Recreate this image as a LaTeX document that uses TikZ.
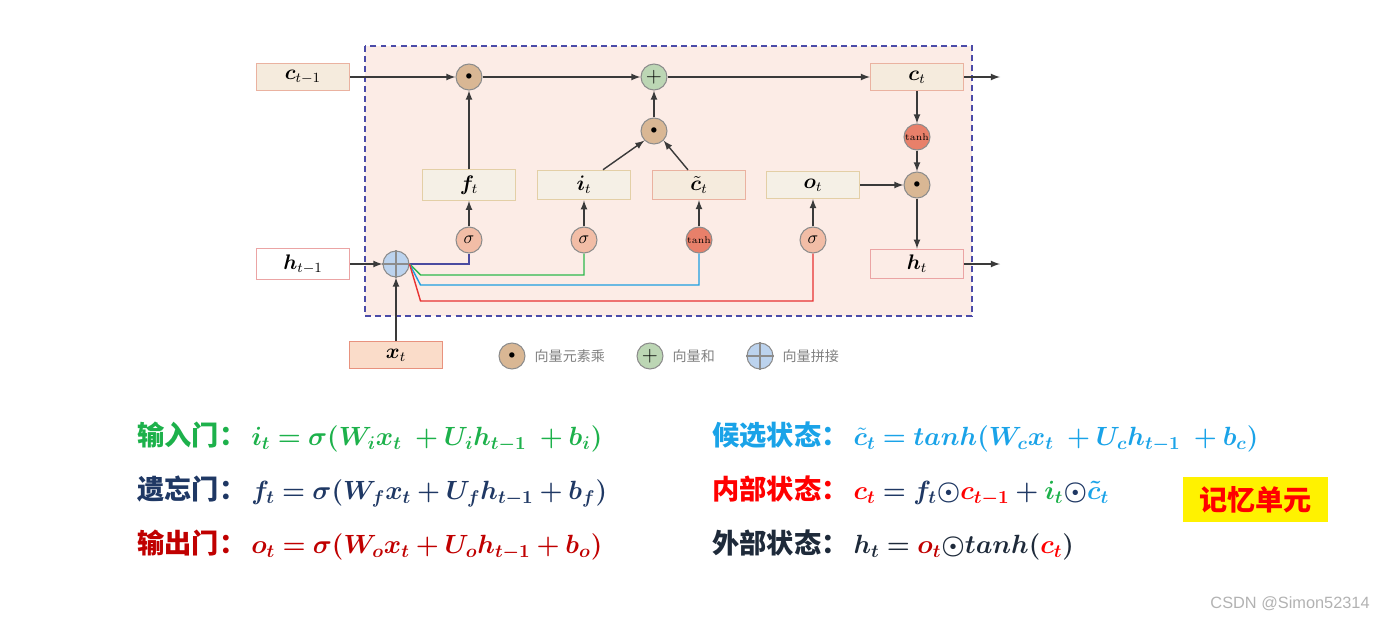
\RequirePackage{fix-cm}
\documentclass[tikz,border=0pt]{standalone}
\usepackage{amsmath}
\usepackage{bm}
\usepackage{fontspec}
\newfontfamily\cjk{Noto Sans CJK SC}
\newfontfamily\wmfont{Liberation Sans}
\usetikzlibrary{arrows,calc,positioning}
\definecolor{CellBg}{HTML}{FCECE6}
\definecolor{CellEdge}{HTML}{4B4BA8}
\definecolor{BoxTan}{HTML}{F5F0E6}
\definecolor{EdgeTan}{HTML}{E3CFA6}
\definecolor{BoxBeige}{HTML}{F5EBDD}
\definecolor{EdgePink}{HTML}{EAB2A0}
\definecolor{BoxPeach}{HTML}{FADCC9}
\definecolor{EdgePeach}{HTML}{E8927E}
\definecolor{EdgeRose}{HTML}{EBA4A4}
\definecolor{MulTan}{HTML}{D9B794}
\definecolor{AddGreen}{HTML}{BCD6B4}
\definecolor{CatBlue}{HTML}{BCD3EE}
\definecolor{SigPink}{HTML}{F2BDA6}
\definecolor{TanhRed}{HTML}{E8806A}
\definecolor{GateRim}{HTML}{8C8C8C}
\definecolor{ArrGray}{HTML}{3A3A3A}
\definecolor{LinePurple}{HTML}{4B4BA0}
\definecolor{LineGreen}{HTML}{2DB84B}
\definecolor{LineBlue}{HTML}{1E9FE0}
\definecolor{LineRed}{HTML}{E83232}
\definecolor{EqGreen}{HTML}{1DB14B}
\definecolor{EqNavy}{HTML}{1F3864}
\definecolor{EqRed}{HTML}{C00000}
\definecolor{EqBlue}{HTML}{1AA3E8}
\definecolor{EqBright}{HTML}{FF0000}
\definecolor{EqDark}{HTML}{1E2A3A}
\tikzset{
    block/.style = {draw, rectangle, line width=0.6pt,
        minimum height=0.54cm,
        minimum width=1.86cm,
        font=\fontsize{12}{14}\selectfont},
    gate/.style = {draw=GateRim, circle, line width=0.6pt,
        minimum size=0.52cm, inner sep=0pt},
    arrow/.style = {draw=ArrGray, -latex, line width=0.8pt},
    feed/.style = {line width=0.8pt},
    legend/.style = {text=gray, font=\cjk\fontsize{8}{10}\selectfont, inner sep=0pt},
    eqn/.style = {anchor=west, inner sep=0pt, font=\fontsize{15}{18}\selectfont}
}
\newcommand{\gatename}[1]{{\cjk\bfseries\fontsize{15.5}{18}\selectfont #1}\hspace{0.1cm}}
\begin{document}
\begin{tikzpicture}[x=0.02cm,y=-0.02cm]
\useasboundingbox (0,0) rectangle (1386,619);
% memory cell
\draw[CellEdge, fill=CellBg, line width=1.1pt, dash pattern=on 3.4pt off 2.3pt] (365,46) rectangle (972,316);

% inputs and outputs
\node[block, fill=BoxBeige, draw=EdgePink] (cprev) at (303,77) {$\bm{c}_{t-1}$};
\node[block, fill=white, draw=EdgeRose] (hprev) at (303,264) {$\bm{h}_{t-1}$};
\node[block, fill=BoxPeach, draw=EdgePeach] (xin) at (396,355) {$\bm{x}_t$};
\node[block, fill=BoxBeige, draw=EdgePink] (ct) at (917,77) {$\bm{c}_t$};
\node[block, fill=CellBg, draw=EdgeRose] (ht) at (917,264) {$\bm{h}_t$};

% gate values
\node[block, fill=BoxTan, draw=EdgeTan] (ft) at (469,185) {$\bm{f}_t$};
\node[block, fill=BoxTan, draw=EdgeTan] (it) at (584,185) {$\bm{i}_t$};
\node[block, fill=BoxBeige, draw=EdgePink] (ctil) at (699,185) {$\tilde{\bm{c}}_t$};
\node[block, fill=BoxTan, draw=EdgeTan] (ot) at (813,185) {$\bm{o}_t$};

% operations
\node[gate, fill=MulTan] (mulf) at (469,77) {\scriptsize$\bullet$};
\node[gate, fill=AddGreen] (addc) at (654,77) {\large$+$};
\node[gate, fill=MulTan] (muli) at (654,131) {\scriptsize$\bullet$};
\node[gate, fill=TanhRed] (tanhc) at (917,137) {\fontsize{5.5}{6}\selectfont tanh};
\node[gate, fill=MulTan] (mulo) at (917,185) {\scriptsize$\bullet$};
\node[gate, fill=SigPink] (sigf) at (469,240) {$\sigma$};
\node[gate, fill=SigPink] (sigi) at (584,240) {$\sigma$};
\node[gate, fill=TanhRed] (tanhi) at (699,240) {\fontsize{5.5}{6}\selectfont tanh};
\node[gate, fill=SigPink] (sigo) at (813,240) {$\sigma$};
\node[gate, fill=CatBlue] (cat) at (396,264) {};
\draw[GateRim, line width=0.6pt] (cat.north) -- (cat.south) (cat.west) -- (cat.east);

\coordinate (cout) at (1000,77);
\coordinate (hout) at (1000,264);

% concatenated input to the gates
\draw[feed, LinePurple] (cat.east) -| (sigf.south);
\draw[feed, LineGreen] (cat.east) -- ++(11,11) -| (sigi.south);
\draw[feed, LineBlue] (cat.east) -- ++(11,21) -| (tanhi.south);
\draw[feed, LineRed] (cat.east) -- ++(11,37) -| (sigo.south);

% flow
\draw[arrow] (cprev) -- (mulf);
\draw[arrow] (mulf) -- (addc);
\draw[arrow] (addc) -- (ct);
\draw[arrow] (ct) -- (cout);
\draw[arrow] (hprev) -- (cat);
\draw[arrow] (xin) -- (cat);
\draw[arrow] (ft) -- (mulf);
\draw[arrow] ([xshift=19*0.02cm]it.north) -- (muli.south west);
\draw[arrow] ([xshift=-11*0.02cm]ctil.north) -- (muli.south east);
\draw[arrow] (muli) -- (addc);
\draw[arrow] (sigf) -- (ft);
\draw[arrow] (sigi) -- (it);
\draw[arrow] (tanhi) -- (ctil);
\draw[arrow] (sigo) -- (ot);
\draw[arrow] (ot) -- (mulo);
\draw[arrow] (ct) -- (tanhc);
\draw[arrow] (tanhc) -- (mulo);
\draw[arrow] (mulo) -- (ht);
\draw[arrow] (ht) -- (hout);

% legend
\node[gate, fill=MulTan] (lgmul) at (512,356) {\scriptsize$\bullet$};
\node[legend, right=5pt of lgmul] (lgmultxt) {向量元素乘};
\node[gate, fill=AddGreen] (lgadd) at (650,356) {\large$+$};
\node[legend, right=5pt of lgadd] (lgaddtxt) {向量和};
\node[gate, fill=CatBlue] (lgcat) at (760,356) {};
\draw[GateRim, line width=0.6pt] (lgcat.north) -- (lgcat.south) (lgcat.west) -- (lgcat.east);
\node[legend, right=5pt of lgcat] (lgcattxt) {向量拼接};

% equations
\node[eqn, text=EqGreen] (eqi) at (137,437) {\gatename{输入门：}$\bm{i_t = \sigma(W_i x_t\; + U_i h_{t-1}\; + b_i)}$};
\node[eqn, text=EqNavy] (eqf) at (137,491) {\gatename{遗忘门：}$\bm{f_t = \sigma(W_f x_t + U_f h_{t-1} + b_f)}$};
\node[eqn, text=EqRed] (eqo) at (137,545) {\gatename{输出门：}$\bm{o_t = \sigma(W_o x_t + U_o h_{t-1} + b_o)}$};
\node[eqn, text=EqBlue] (eqc) at (712,437) {\gatename{候选状态：}$\bm{\tilde{c}_t = tanh(W_c x_t\; + U_c h_{t-1}\; + b_c)}$};
\node[eqn, text=EqNavy] (eqct) at (712,491) {\gatename{\color{EqBright}内部状态：}$\bm{{\color{EqBright}c_t} = f_t{\odot}{\color{EqBright}c_{t-1}} + {\color{EqGreen}i_t}{\odot}{\color{EqBlue}\tilde{c}_t}}$};
\node[eqn, text=EqDark] (eqht) at (712,545) {\gatename{外部状态：}$\bm{h_t = {\color{EqRed}o_t}{\odot}tanh({\color{EqBright}c_t})}$};

% memory unit tag
\node[fill=yellow, minimum width=2.9cm, minimum height=0.9cm, text=EqBright,
      font=\cjk\bfseries\fontsize{16}{18}\selectfont] (tag) at (1255.5,499.5) {记忆单元};

% watermark
\node[anchor=east, text=gray!60, inner sep=0pt, font=\wmfont\fontsize{9.3}{11}\selectfont] (mark) at (1370,604) {CSDN @Simon52314};
\end{tikzpicture}
\end{document}
